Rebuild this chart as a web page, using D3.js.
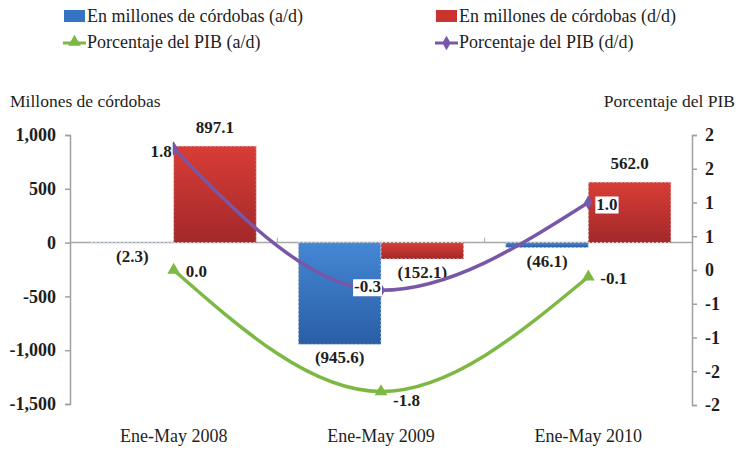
<!DOCTYPE html>
<html lang="es">
<head>
<meta charset="utf-8">
<title>Balance</title>
<script src="https://cdn.jsdelivr.net/npm/d3@7"></script>
<style>
  body { margin: 0; background: #fff; }
  svg text { font-family: "Liberation Serif", "DejaVu Serif", serif; fill: #1e1e1e; }
</style>
</head>
<body>
<script>
// data
var categories = ["Ene-May 2008", "Ene-May 2009", "Ene-May 2010"];
var seriesNames = ["En millones de córdobas (a/d)", "En millones de córdobas (d/d)"];
var millonesAD = [-2.3, -945.6, -46.1];
var millonesDD = [897.1, -152.1, 562.0];
var pibAD = [0.0, -1.8, -0.1];
var pibDD = [1.8, -0.3, 1.0];
var barLabelsAD = ["(2.3)", "(945.6)", "(46.1)"];
var barLabelsDD = ["897.1", "(152.1)", "562.0"];
var leftTicks = [-1500, -1000, -500, 0, 500, 1000];
var leftTickLabels = ["-1,500", "-1,000", "-500", "0", "500", "1,000"];
var rightTicks = [-2, -1.5, -1, -0.5, 0, 0.5, 1, 1.5, 2];
var rightTickLabels = ["-2", "-2", "-1", "-1", "0", "1", "1", "2", "2"];

var w = 741, h = 450;
var mLeft = 70, mRight = 692, mTop = 135, mBottom = 404;

var svg = d3.select("body").append("svg").attr("width", w).attr("height", h);

var defs = svg.append("defs");
function grad(id, c1, c2) {
  var g = defs.append("linearGradient").attr("id", id)
    .attr("x1", 0).attr("y1", 0).attr("x2", 0).attr("y2", 1);
  g.append("stop").attr("offset", "0%").attr("stop-color", c1);
  g.append("stop").attr("offset", "100%").attr("stop-color", c2);
}
grad("gBlue", "#4587d4", "#2a5ea6");
grad("gRed", "#d83d36", "#a3282a");

var x0 = d3.scaleBand().domain(categories).range([mLeft, mRight]).padding(0);
var x1 = d3.scaleBand().domain([0, 1]).range([0, x0.bandwidth()]).paddingInner(0).paddingOuter(0.255);
var yL = d3.scaleLinear().domain([-1500, 1000]).range([mBottom, mTop]);
var yR = d3.scaleLinear().domain([-2, 2]).range([405, 135]);

// axes
var axL = svg.append("g").attr("transform", "translate(" + mLeft + ",0)")
  .call(d3.axisLeft(yL).tickValues(leftTicks).tickSize(5).tickPadding(9)
    .tickFormat(function(d, i) { return leftTickLabels[i]; }));
var axR = svg.append("g").attr("transform", "translate(" + mRight + ",0)")
  .call(d3.axisRight(yR).tickValues(rightTicks).tickSize(5).tickPadding(8)
    .tickFormat(function(d, i) { return rightTickLabels[i]; }));
[axL, axR].forEach(function(a) {
  a.attr("font-family", null);
  a.select(".domain").attr("stroke", "#a0a0a0").attr("stroke-width", 1.5);
  a.selectAll(".tick line").attr("stroke", "#a0a0a0").attr("stroke-width", 1.5);
  a.selectAll(".tick text").style("font-size", "18px").style("font-weight", "bold").attr("fill", "#222");
});

// zero line
svg.append("line").attr("x1", mLeft).attr("x2", mRight)
  .attr("y1", yL(0)).attr("y2", yL(0)).attr("stroke", "#a8a8a8").attr("stroke-width", 1.5);
// category separators on zero line
svg.selectAll("line.sep").data(categories.slice(1)).enter().append("line")
  .attr("x1", function(d) { return x0(d); }).attr("x2", function(d) { return x0(d); })
  .attr("y1", yL(0)).attr("y2", yL(0) - 5).attr("stroke", "#a8a8a8");

// bars
var barData = [];
categories.forEach(function(c, i) {
  barData.push({ cat: c, s: 0, v: millonesAD[i], lab: barLabelsAD[i] });
  barData.push({ cat: c, s: 1, v: millonesDD[i], lab: barLabelsDD[i] });
});
svg.selectAll("rect.bar").data(barData).enter().append("rect")
  .attr("class", "bar")
  .attr("x", function(d) { return x0(d.cat) + x1(d.s); })
  .attr("width", x1.bandwidth())
  .attr("y", function(d) { return yL(Math.max(0, d.v)); })
  .attr("height", function(d) { return Math.abs(yL(d.v) - yL(0)); })
  .attr("fill", function(d) { return d.s === 0 ? "url(#gBlue)" : "url(#gRed)"; })
  .attr("stroke", "#d8d8d8").attr("stroke-dasharray", "2,2").attr("stroke-width", 1);

svg.selectAll("text.blab").data(barData).enter().append("text")
  .attr("x", function(d) { return x0(d.cat) + x1(d.s) + x1.bandwidth() / 2; })
  .attr("y", function(d) { return d.v >= 0 ? yL(d.v) - 13 : yL(d.v) + 19; })
  .attr("text-anchor", "middle")
  .style("font-size", "17px").style("font-weight", "bold")
  .text(function(d) { return d.lab; });

// lines
var cx = function(c) { return x0(c) + x0.bandwidth() / 2; };
var line = d3.line().curve(d3.curveMonotoneX)
  .x(function(d) { return cx(d.cat); }).y(function(d) { return yR(d.v); });

function series(vals) { return categories.map(function(c, i) { return { cat: c, v: vals[i] }; }); }
var green = series(pibAD), purple = series(pibDD);

svg.append("path").datum(green).attr("d", line).attr("fill", "none")
  .attr("stroke", "#7cb843").attr("stroke-width", 3.5);
svg.append("path").datum(purple).attr("d", line).attr("fill", "none")
  .attr("stroke", "#7857a8").attr("stroke-width", 3.5);

var tri = d3.symbol().type(d3.symbolTriangle).size(70);
var dia = d3.symbol().type(d3.symbolDiamond).size(60);
svg.selectAll("path.gm").data(green).enter().append("path")
  .attr("transform", function(d) { return "translate(" + cx(d.cat) + "," + yR(d.v) + ")"; })
  .attr("d", tri).attr("fill", "#7cb843");
svg.selectAll("path.pm").data(purple).enter().append("path")
  .attr("transform", function(d) { return "translate(" + cx(d.cat) + "," + yR(d.v) + ")"; })
  .attr("d", dia).attr("fill", "#7857a8");

// line labels
var gOff = [[12, 7], [12, 14], [12, 7]];
svg.selectAll("text.gl").data(green).enter().append("text")
  .attr("x", function(d, i) { return cx(d.cat) + gOff[i][0]; })
  .attr("y", function(d, i) { return yR(d.v) + gOff[i][1]; })
  .style("font-size", "17px").style("font-weight", "bold")
  .text(function(d) { return d.v.toFixed(1); });

var pOff = [[-2, 8, "end"], [0, 2, "end"], [8, 7, "start"]];
var pl = svg.selectAll("g.pl").data(purple).enter().append("g");
pl.append("rect").attr("fill", "#fff");
pl.append("text")
  .attr("x", function(d, i) { return cx(d.cat) + pOff[i][0]; })
  .attr("y", function(d, i) { return yR(d.v) + pOff[i][1]; })
  .attr("text-anchor", function(d, i) { return pOff[i][2]; })
  .style("font-size", "17px").style("font-weight", "bold")
  .text(function(d) { return d.v.toFixed(1); });
pl.each(function() {
  var g = d3.select(this), b = g.select("text").node().getBBox();
  g.select("rect").attr("x", b.x - 1).attr("y", b.y + 2).attr("width", b.width + 2).attr("height", b.height - 2);
});

// category labels
svg.selectAll("text.cat").data(categories).enter().append("text")
  .attr("x", function(d) { return cx(d); }).attr("y", 442)
  .attr("text-anchor", "middle").style("font-size", "18px")
  .text(function(d) { return d; });

// axis titles
svg.append("text").attr("x", 10).attr("y", 107).style("font-size", "17.5px").text("Millones de córdobas");
svg.append("text").attr("x", 735).attr("y", 107).attr("text-anchor", "end").style("font-size", "17.5px").text("Porcentaje del PIB");

// legend
var leg = svg.append("g");
leg.append("rect").attr("x", 64).attr("y", 10).attr("width", 21).attr("height", 12).attr("fill", "#3474c2");
leg.append("text").attr("x", 87).attr("y", 22).style("font-size", "18px").text(seriesNames[0]);
leg.append("rect").attr("x", 436).attr("y", 10).attr("width", 21).attr("height", 12).attr("fill", "#c93431");
leg.append("text").attr("x", 459).attr("y", 22).style("font-size", "18px").text(seriesNames[1]);

leg.append("line").attr("x1", 63).attr("x2", 86).attr("y1", 43).attr("y2", 43).attr("stroke", "#7cb843").attr("stroke-width", 3);
leg.append("path").attr("transform", "translate(74.5,42)").attr("d", tri).attr("fill", "#7cb843");
leg.append("text").attr("x", 87).attr("y", 48).style("font-size", "18px").text("Porcentaje del PIB (a/d)");
leg.append("line").attr("x1", 435).attr("x2", 458).attr("y1", 43).attr("y2", 43).attr("stroke", "#7857a8").attr("stroke-width", 3);
leg.append("path").attr("transform", "translate(446.5,43)").attr("d", dia).attr("fill", "#7857a8");
leg.append("text").attr("x", 459).attr("y", 48).style("font-size", "18px").text("Porcentaje del PIB (d/d)");
</script>
</body>
</html>
